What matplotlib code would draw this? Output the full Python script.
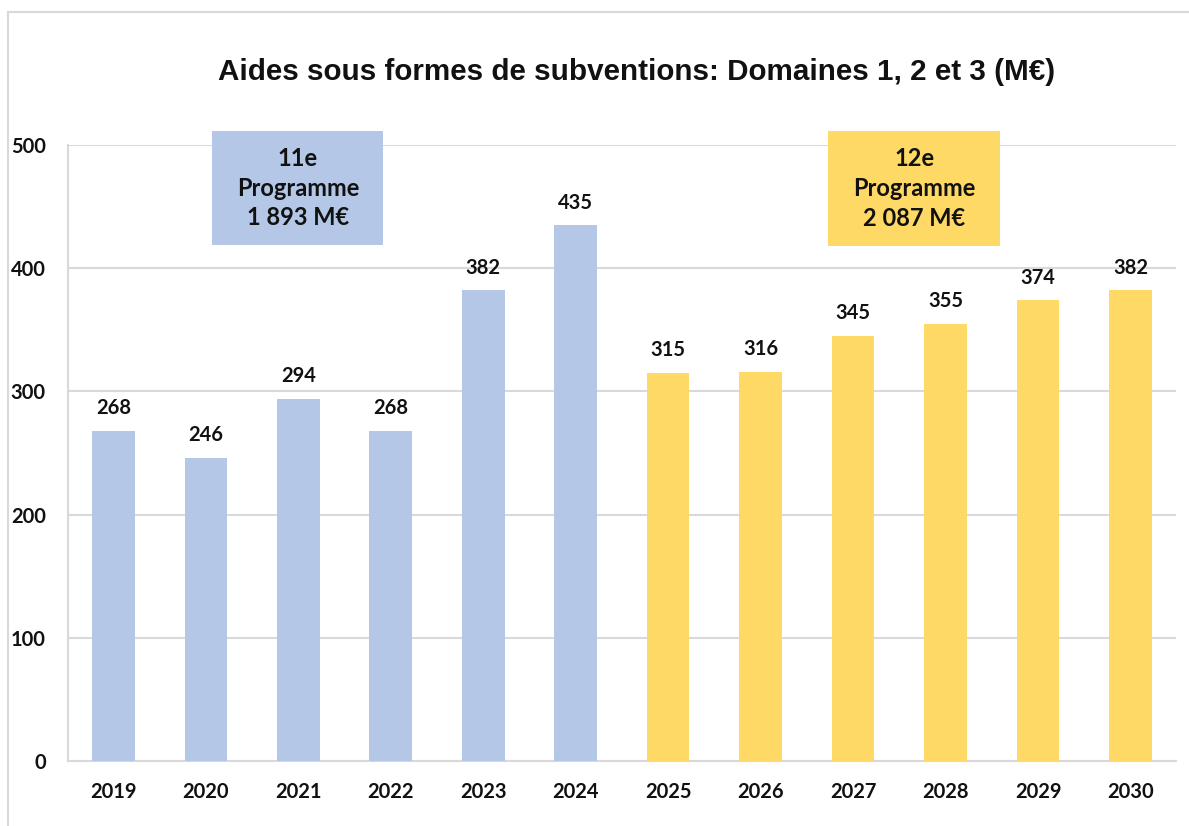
import matplotlib
matplotlib.use("Agg")
import matplotlib.pyplot as plt
from matplotlib.patches import Rectangle
from matplotlib.lines import Line2D

years = ["2019", "2020", "2021", "2022", "2023", "2024",
         "2025", "2026", "2027", "2028", "2029", "2030"]
values = [268, 246, 294, 268, 382, 435, 315, 316, 345, 355, 374, 382]
programme = [11, 11, 11, 11, 11, 11, 12, 12, 12, 12, 12, 12]
box_texts = {11: "11e\nProgramme\n1 893 M€", 12: "12e\nProgramme\n2 087 M€"}

blue = "#B4C7E7"
yellow = "#FFD966"
grid = "#D9D9D9"
colors = [blue if p == 11 else yellow for p in programme]

plt.rcParams["font.family"] = ["Lato", "DejaVu Sans"]

fig = plt.figure(figsize=(11.89, 8.26), dpi=100)
ax = fig.add_axes([0.0572, 0.0787, 0.9318, 0.7458])

x = list(range(len(years)))
bars = ax.bar(x, values, width=0.46, color=colors, zorder=3)

for xi, v in zip(x, values):
    ax.annotate(str(v), (xi, v), xytext=(0, 9), textcoords="offset points",
                ha="center", va="bottom", fontsize=14.5, fontweight="bold",
                color="#111111")

ax.set_xlim(-0.49, 11.49)
ax.set_ylim(0, 500)
ax.set_yticks([0, 100, 200, 300, 400, 500])
ax.set_xticks(x)
ax.set_xticklabels(years)
ax.tick_params(axis="both", length=0, labelsize=14.5, colors="#111111")
ax.tick_params(axis="x", pad=15)
ax.tick_params(axis="y", pad=16)
for lab in ax.get_xticklabels() + ax.get_yticklabels():
    lab.set_fontweight("bold")

ax.grid(axis="y", color=grid, linewidth=1.5, zorder=0)
ax.set_axisbelow(True)
for side in ["top", "right"]:
    ax.spines[side].set_visible(False)
ax.spines["left"].set_color(grid)
ax.spines["left"].set_linewidth(1.5)
ax.spines["bottom"].set_color(grid)
ax.spines["bottom"].set_linewidth(1.5)

# programme boxes
for (x0, x1, y0, y1, key, col) in [(1.07, 2.92, 419, 511, 11, blue),
                                    (7.73, 9.59, 418, 511, 12, yellow)]:
    ax.add_patch(Rectangle((x0, y0), x1 - x0, y1 - y0, facecolor=col,
                           edgecolor="none", clip_on=False, zorder=4))
    ax.text((x0 + x1) / 2, (y0 + y1) / 2, box_texts[key], ha="center",
            va="center", fontsize=17, fontweight="bold", color="#111111",
            linespacing=1.36, zorder=5)

fig.text(0.535, 0.913, "Aides sous formes de subventions: Domaines 1, 2 et 3 (M€)",
         ha="center", va="center", fontsize=21.3, fontweight="bold",
         family=["Liberation Sans", "DejaVu Sans"], color="#111111")

# chart-area border (cut at right and bottom)
fig.add_artist(Line2D([8 / 1189, 1], [1 - 12 / 826, 1 - 12 / 826],
                      color=grid, linewidth=1.5, transform=fig.transFigure,
                      zorder=0))
fig.add_artist(Line2D([8 / 1189, 8 / 1189], [0, 1 - 12 / 826],
                      color=grid, linewidth=1.5, transform=fig.transFigure,
                      zorder=0))

fig.savefig("out.png", dpi=100)
